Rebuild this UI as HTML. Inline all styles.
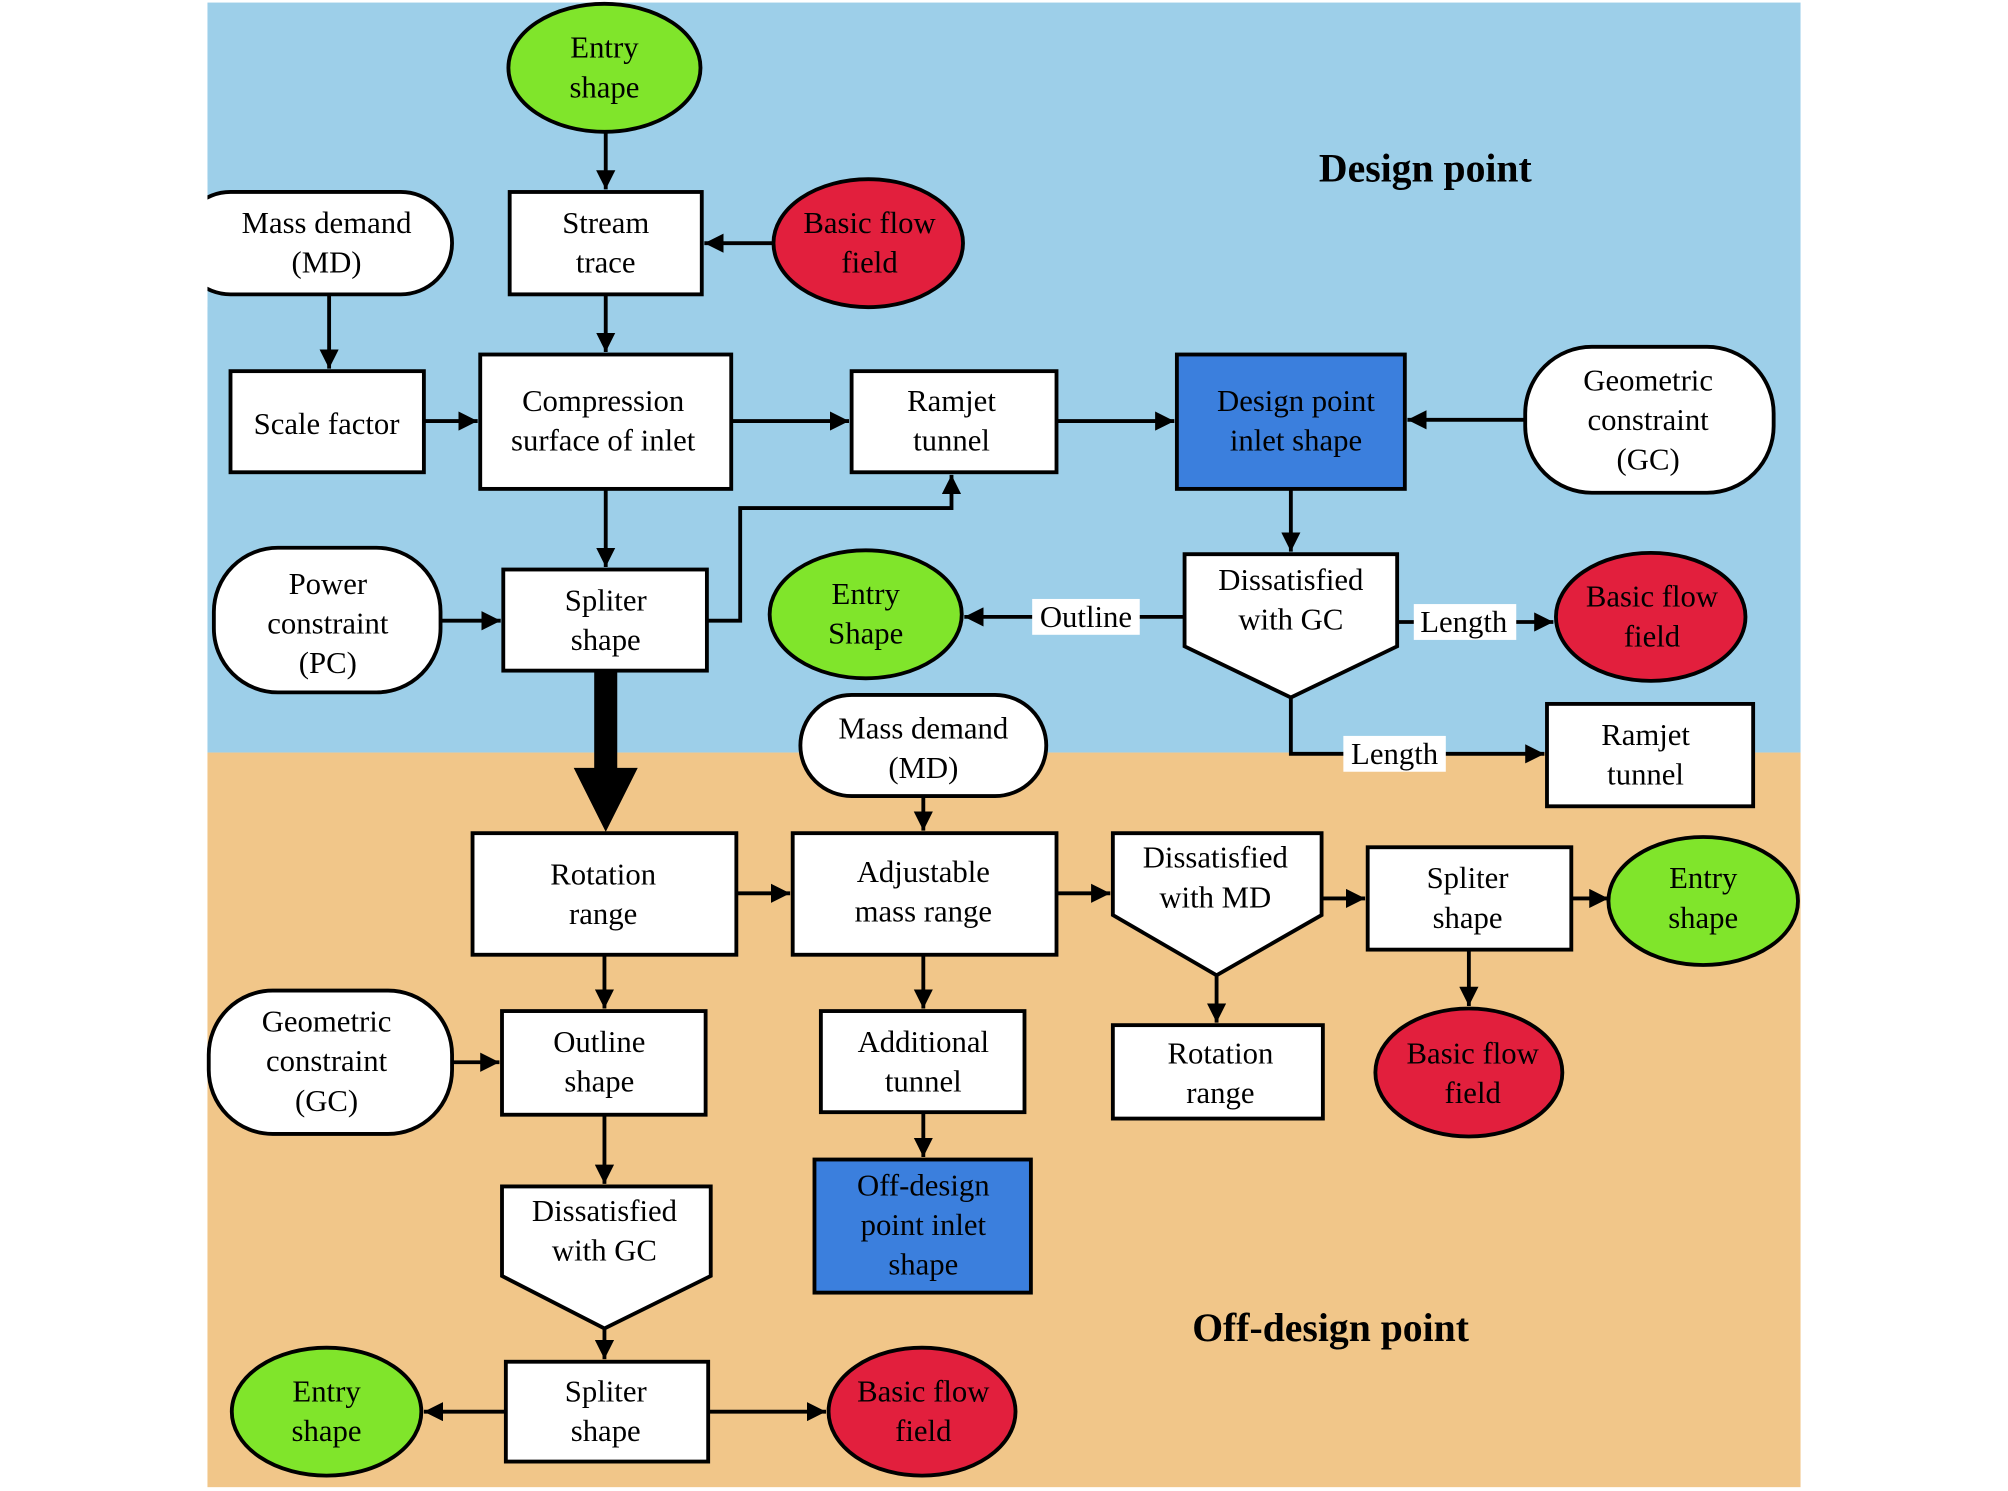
<!DOCTYPE html>
<html><head><meta charset="utf-8"><style>
html,body{margin:0;padding:0;background:#fff;}
svg{display:block;}
text{font-family:"Liberation Serif",serif;font-size:24px;fill:#000;text-anchor:middle;}
.t{font-weight:bold;font-size:31px;}
</style></head><body>
<svg width="2008" height="1491" viewBox="0 0 1568 1165" preserveAspectRatio="none" xmlns="http://www.w3.org/2000/svg">
<defs>
<marker id="a" viewBox="0 0 10 10" refX="10" refY="5" markerWidth="5" markerHeight="5" orient="auto" markerUnits="strokeWidth"><path d="M0,0 L10,5 L0,10 z" fill="#000"/></marker>
</defs>
<rect x="0" y="0" width="1568" height="1166" fill="#fff"/>
<rect x="162" y="2" width="1244" height="586" fill="#9dcfe9"/>
<rect x="162" y="588" width="1244" height="574" fill="#f1c689"/>

<g stroke="#000" stroke-width="3" fill="none">
<line x1="473" y1="103" x2="473" y2="148" marker-end="url(#a)"/>
<line x1="603" y1="190" x2="550" y2="190" marker-end="url(#a)"/>
<line x1="473" y1="230" x2="473" y2="275" marker-end="url(#a)"/>
<line x1="257" y1="230" x2="257" y2="288" marker-end="url(#a)"/>
<line x1="331" y1="329" x2="373" y2="329" marker-end="url(#a)"/>
<line x1="571" y1="329" x2="663" y2="329" marker-end="url(#a)"/>
<line x1="825" y1="329" x2="917" y2="329" marker-end="url(#a)"/>
<line x1="1191" y1="328" x2="1099" y2="328" marker-end="url(#a)"/>
<line x1="473" y1="382" x2="473" y2="443" marker-end="url(#a)"/>
<line x1="344" y1="485" x2="391" y2="485" marker-end="url(#a)"/>
<polyline points="552,485 578,485 578,397 743,397 743,371" marker-end="url(#a)"/>
<line x1="1008" y1="382" x2="1008" y2="431" marker-end="url(#a)"/>
<line x1="925" y1="482" x2="753" y2="482" marker-end="url(#a)"/>
<line x1="1091" y1="486" x2="1213" y2="486" marker-end="url(#a)"/>
<polyline points="1008,545 1008,589 1206,589" marker-end="url(#a)"/>
<line x1="721" y1="622" x2="721" y2="649" marker-end="url(#a)"/>
<line x1="575" y1="698" x2="617" y2="698" marker-end="url(#a)"/>
<line x1="825" y1="698" x2="867" y2="698" marker-end="url(#a)"/>
<line x1="1032" y1="702" x2="1066" y2="702" marker-end="url(#a)"/>
<line x1="1227" y1="702" x2="1256" y2="702" marker-end="url(#a)"/>
<line x1="1147" y1="742" x2="1147" y2="786" marker-end="url(#a)"/>
<line x1="950" y1="762" x2="950" y2="799" marker-end="url(#a)"/>
<line x1="472" y1="746" x2="472" y2="788" marker-end="url(#a)"/>
<line x1="721" y1="746" x2="721" y2="788" marker-end="url(#a)"/>
<line x1="721" y1="869" x2="721" y2="904" marker-end="url(#a)"/>
<line x1="353" y1="830" x2="390" y2="830" marker-end="url(#a)"/>
<line x1="472" y1="871" x2="472" y2="925" marker-end="url(#a)"/>
<line x1="472" y1="1038" x2="472" y2="1062" marker-end="url(#a)"/>
<line x1="395" y1="1103" x2="331" y2="1103" marker-end="url(#a)"/>
<line x1="553" y1="1103" x2="645" y2="1103" marker-end="url(#a)"/>
</g>
<path d="M464,524 L482,524 L482,600 L498,600 L473,650 L448,600 L464,600 z" fill="#000"/>

<g stroke="#000" stroke-width="3">
<ellipse cx="472" cy="53" rx="75" ry="50" fill="#80e52b"/>
<rect x="398" y="150" width="150" height="80" fill="#fff"/>
<ellipse cx="678" cy="190" rx="74" ry="50" fill="#e21f3d"/>
<rect x="140" y="150" width="213" height="80" rx="40" fill="#fff"/>
<rect x="180" y="290" width="151" height="79" fill="#fff"/>
<rect x="375" y="277" width="196" height="105" fill="#fff"/>
<rect x="665" y="290" width="160" height="79" fill="#fff"/>
<rect x="919" y="277" width="178" height="105" fill="#3b7fdd"/>
<rect x="1191" y="271" width="194" height="114" rx="52" fill="#fff"/>
<rect x="167" y="428" width="177" height="113" rx="50" fill="#fff"/>
<rect x="393" y="445" width="159" height="79" fill="#fff"/>
<ellipse cx="676" cy="480" rx="75" ry="50" fill="#80e52b"/>
<path d="M925,433 L1091,433 L1091,505 L1008,545 L925,505 z" fill="#fff"/>
<ellipse cx="1289" cy="482" rx="74" ry="50" fill="#e21f3d"/>
<rect x="1208" y="550" width="161" height="80" fill="#fff"/>
<rect x="625" y="543" width="192" height="79" rx="40" fill="#fff"/>
<rect x="369" y="651" width="206" height="95" fill="#fff"/>
<rect x="619" y="651" width="206" height="95" fill="#fff"/>
<path d="M869,651 L1032,651 L1032,715 L950,762 L869,715 z" fill="#fff"/>
<rect x="1068" y="662" width="159" height="80" fill="#fff"/>
<ellipse cx="1330" cy="704" rx="74" ry="50" fill="#80e52b"/>
<ellipse cx="1147" cy="838" rx="73" ry="50" fill="#e21f3d"/>
<rect x="869" y="801" width="164" height="73" fill="#fff"/>
<rect x="163" y="774" width="190" height="112" rx="50" fill="#fff"/>
<rect x="392" y="790" width="159" height="81" fill="#fff"/>
<rect x="641" y="790" width="159" height="79" fill="#fff"/>
<rect x="636" y="906" width="169" height="104" fill="#3b7fdd"/>
<path d="M392,927 L555,927 L555,997 L472,1038 L392,997 z" fill="#fff"/>
<rect x="395" y="1064" width="158" height="78" fill="#fff"/>
<ellipse cx="255" cy="1103" rx="74" ry="50" fill="#80e52b"/>
<ellipse cx="720" cy="1103" rx="73" ry="50" fill="#e21f3d"/>
</g>
<rect x="0" y="140" width="162" height="100" fill="#fff"/>

<rect x="806" y="468" width="84" height="28" fill="#fff"/>
<rect x="1104" y="472" width="80" height="28" fill="#fff"/>
<rect x="1049" y="575" width="80" height="28" fill="#fff"/>

<text x="472" y="45">Entry</text><text x="472" y="76">shape</text>
<text x="473" y="182">Stream</text><text x="473" y="213">trace</text>
<text x="679" y="182">Basic flow</text><text x="679" y="213">field</text>
<text x="255" y="182">Mass demand</text><text x="255" y="213">(MD)</text>
<text x="255" y="339">Scale factor</text>
<text x="471" y="321">Compression</text><text x="471" y="352">surface of inlet</text>
<text x="743" y="321">Ramjet</text><text x="743" y="352">tunnel</text>
<text x="1012" y="321">Design point</text><text x="1012" y="352">inlet shape</text>
<text x="1287" y="305">Geometric</text><text x="1287" y="336">constraint</text><text x="1287" y="367">(GC)</text>
<text x="256" y="464">Power</text><text x="256" y="495">constraint</text><text x="256" y="526">(PC)</text>
<text x="473" y="477">Spliter</text><text x="473" y="508">shape</text>
<text x="676" y="472">Entry</text><text x="676" y="503">Shape</text>
<text x="848" y="490">Outline</text>
<text x="1008" y="461">Dissatisfied</text><text x="1008" y="492">with GC</text>
<text x="1143" y="494">Length</text>
<text x="1290" y="474">Basic flow</text><text x="1290" y="505">field</text>
<text x="1089" y="597">Length</text>
<text x="1285" y="582">Ramjet</text><text x="1285" y="613">tunnel</text>
<text x="721" y="577">Mass demand</text><text x="721" y="608">(MD)</text>
<text x="471" y="691">Rotation</text><text x="471" y="722">range</text>
<text x="721" y="689">Adjustable</text><text x="721" y="720">mass range</text>
<text x="949" y="678">Dissatisfied</text><text x="949" y="709">with MD</text>
<text x="1146" y="694">Spliter</text><text x="1146" y="725">shape</text>
<text x="1330" y="694">Entry</text><text x="1330" y="725">shape</text>
<text x="1150" y="831">Basic flow</text><text x="1150" y="862">field</text>
<text x="953" y="831">Rotation</text><text x="953" y="862">range</text>
<text x="255" y="806">Geometric</text><text x="255" y="837">constraint</text><text x="255" y="868">(GC)</text>
<text x="468" y="822">Outline</text><text x="468" y="853">shape</text>
<text x="721" y="822">Additional</text><text x="721" y="853">tunnel</text>
<text x="721" y="934">Off-design</text><text x="721" y="965">point inlet</text><text x="721" y="996">shape</text>
<text x="472" y="954">Dissatisfied</text><text x="472" y="985">with GC</text>
<text x="473" y="1095">Spliter</text><text x="473" y="1126">shape</text>
<text x="255" y="1095">Entry</text><text x="255" y="1126">shape</text>
<text x="721" y="1095">Basic flow</text><text x="721" y="1126">field</text>
<text class="t" x="1113" y="142">Design point</text>
<text class="t" x="1039" y="1048">Off-design point</text>
</svg>
</body></html>
